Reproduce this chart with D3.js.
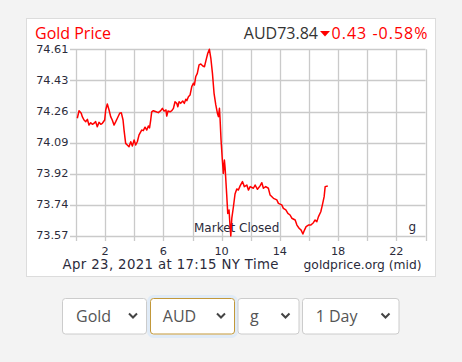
<!DOCTYPE html>
<html>
<head>
<meta charset="utf-8">
<script src="https://cdn.jsdelivr.net/npm/d3@7"></script>
<style>
  html, body { margin: 0; padding: 0; background: #f3f3f3; }
  svg { display: block; }
</style>
</head>
<body>
<svg id="chart" width="462" height="362"></svg>
<script>
// ---- data ----
const hours = [0.09,0.21,0.36,0.43,0.55,0.67,0.78,0.89,1.01,1.12,1.24,1.35,1.46,1.58,1.70,1.81,1.97,2.04,2.15,2.27,2.38,2.49,2.61,2.73,2.84,3.00,3.11,3.23,3.30,3.41,3.52,3.64,3.76,3.87,3.99,4.10,4.21,4.33,4.51,4.62,4.74,4.86,4.97,5.05,5.13,5.20,5.31,5.50,5.65,5.82,5.93,6.05,6.18,6.23,6.32,6.46,6.58,6.69,6.80,6.92,6.99,7.08,7.19,7.33,7.44,7.54,7.61,7.72,7.83,7.95,8.06,8.13,8.22,8.33,8.45,8.57,8.71,8.82,8.93,9.05,9.16,9.26,9.37,9.48,9.60,9.71,9.78,9.85,9.89,9.96,10.05,10.12,10.19,10.24,10.35,10.42,10.51,10.58,10.63,10.70,10.81,10.92,11.04,11.15,11.27,11.43,11.56,11.73,11.84,11.96,12.18,12.30,12.46,12.64,12.76,12.87,13.03,13.21,13.33,13.56,13.79,13.90,14.13,14.24,14.41,14.55,14.70,14.82,15.05,15.17,15.32,15.46,15.58,15.69,15.80,15.96,16.13,16.30,16.42,16.54,16.65,16.81,16.92,17.04,17.11,17.29];
const prices = [74.226,74.268,74.254,74.235,74.216,74.207,74.220,74.188,74.201,74.192,74.198,74.207,74.179,74.203,74.192,74.198,74.216,74.272,74.305,74.272,74.235,74.216,74.188,74.207,74.226,74.254,74.257,74.216,74.160,74.086,74.077,74.067,74.095,74.071,74.105,74.077,74.095,74.133,74.160,74.157,74.176,74.160,74.183,74.172,74.216,74.262,74.268,74.262,74.257,74.268,74.281,74.266,74.272,74.238,74.266,74.262,74.268,74.281,74.318,74.309,74.290,74.318,74.309,74.322,74.309,74.332,74.324,74.346,74.355,74.402,74.421,74.411,74.457,74.476,74.523,74.528,74.517,74.513,74.550,74.588,74.610,74.560,74.476,74.365,74.300,74.254,74.235,74.281,74.227,74.105,73.993,73.919,73.993,73.949,73.798,73.696,73.715,73.622,73.570,73.670,73.733,73.804,73.832,73.826,73.849,73.873,73.845,73.854,73.826,73.845,73.836,73.854,73.830,73.849,73.867,73.836,73.845,73.836,73.798,73.780,73.771,73.752,73.743,73.724,73.715,73.696,73.687,73.669,73.659,73.631,73.613,73.603,73.581,73.603,73.622,73.631,73.631,73.644,73.659,73.650,73.678,73.705,73.743,73.789,73.845,73.849];
const yDomain = [73.57, 74.61];
const yTickLabels = ["73.57","73.74","73.92","74.09","74.26","74.43","74.61"];
const xDomain = [0, 24];
const xGridHours = [0,2,4,6,8,10,12,14,16,18,20,22,24];
const xTickLabels = [2,6,10,14,18,22];
const titleText = "Gold Price";
const priceText = "AUD73.84";
const changeText = "0.43 -0.58%";
const dateText = "Apr 23, 2021 at 17:15 NY Time";
const sourceText = "goldprice.org (mid)";
const closedText = "Market Closed";
const unitText = "g";
const selectors = ["Gold", "AUD", "g", "1 Day"];

// ---- drawing ----
const svg = d3.select("#chart");
const FONT = "'DejaVu Sans', Verdana, sans-serif";
const TFONT = "'Open Sans', sans-serif";

// card
svg.append("rect").attr("x", 26.5).attr("y", 18.5).attr("width", 409).attr("height", 258)
  .attr("fill", "#fff").attr("stroke", "#dcdcdc").attr("stroke-width", 1);

const x = d3.scaleLinear().domain(xDomain).range([76, 425.5]);
const y = d3.scaleLinear().domain(yDomain).range([236, 49.3]);

const yTickVals = d3.range(yTickLabels.length).map(i => yDomain[0] + i * (yDomain[1] - yDomain[0]) / (yTickLabels.length - 1));

const grid = svg.append("g");
// horizontal gridlines + left ticks
grid.selectAll("line.h").data(yTickVals).join("line")
  .attr("x1", 70).attr("x2", x(24))
  .attr("y1", d => Math.round(y(d)) + 0.5).attr("y2", d => Math.round(y(d)) + 0.5)
  .attr("stroke", "#cacaca").attr("stroke-width", 1.3);
// vertical gridlines + bottom ticks
grid.selectAll("line.v").data(xGridHours).join("line")
  .attr("x1", d => Math.round(x(d)) + 0.5).attr("x2", d => Math.round(x(d)) + 0.5)
  .attr("y1", y(yDomain[1])).attr("y2", 241)
  .attr("stroke", "#cacaca").attr("stroke-width", 1.3);

// y labels
svg.append("g").selectAll("text").data(yTickVals).join("text")
  .attr("x", 68.5).attr("y", d => y(d) + 3.4)
  .attr("text-anchor", "end")
  .attr("font-family", FONT).attr("font-size", 11.3).attr("fill", "#2b2b3b")
  .text((d, i) => yTickLabels[i]);

// x labels
svg.append("g").selectAll("text").data(xTickLabels).join("text")
  .attr("x", d => x(d)).attr("y", 254.5)
  .attr("text-anchor", "middle")
  .attr("font-family", FONT).attr("font-size", 11.3).attr("fill", "#2b2b3b")
  .text(d => d);

// market closed + unit
svg.append("text").attr("x", 194).attr("y", 231.5)
  .attr("font-family", FONT).attr("font-size", 12).attr("fill", "#2b2b3b").text(closedText);
svg.append("text").attr("x", 408.5).attr("y", 230.5)
  .attr("font-family", FONT).attr("font-size", 12).attr("fill", "#2b2b3b").text(unitText);

// price line
const pts = hours.map((h, i) => [h, prices[i]]);
svg.append("path").datum(pts)
  .attr("fill", "none").attr("stroke", "#ff0000").attr("stroke-width", 1.5)
  .attr("stroke-linejoin", "round")
  .attr("d", d3.line().x(d => x(d[0])).y(d => y(d[1])));

// header
svg.append("text").attr("x", 35).attr("y", 39)
  .attr("font-family", TFONT).attr("font-size", 16).attr("fill", "#ff0000").text(titleText);
svg.append("text").attr("x", 318).attr("y", 39).attr("text-anchor", "end")
  .attr("font-family", TFONT).attr("font-size", 16).attr("fill", "#333").text(priceText);
svg.append("path").attr("d", "M320,31 L330,31 L325,36.5 Z").attr("fill", "#ff0000");
svg.append("text").attr("x", 427.5).attr("y", 39).attr("text-anchor", "end")
  .attr("font-family", TFONT).attr("font-size", 16).attr("fill", "#ff0000")
  .attr("textLength", 96).attr("lengthAdjust", "spacing")
  .text(changeText);

// footer
svg.append("text").attr("x", 62.5).attr("y", 268.5)
  .attr("font-family", FONT).attr("font-size", 13.3).attr("fill", "#2b2b3b")
  .attr("textLength", 216).attr("lengthAdjust", "spacing").text(dateText);
svg.append("text").attr("x", 421.5).attr("y", 268.5).attr("text-anchor", "end")
  .attr("font-family", FONT).attr("font-size", 12.3).attr("fill", "#2b2b3b").text(sourceText);

// selectors
const boxX = [62.5, 150.5, 238, 302.5];
const boxW = [84, 84, 61, 96.5];
const textOff = [13.5, 12.3, 12, 13.2];
const sel = svg.append("g");
selectors.forEach((s, i) => {
  const g = sel.append("g");
  const active = i === 1;
  if (active) {
    g.append("rect").attr("x", boxX[i] - 2).attr("y", 296.5).attr("width", boxW[i] + 4).attr("height", 40)
      .attr("rx", 5).attr("fill", "none").attr("stroke", "#dbe9f7").attr("stroke-width", 3).attr("opacity", 0.8);
  }
  g.append("rect").attr("x", boxX[i]).attr("y", 298.5).attr("width", boxW[i]).attr("height", 35.5)
    .attr("rx", 3).attr("fill", "#fff").attr("stroke", active ? "#c2983a" : "#cccccc").attr("stroke-width", 1);
  g.append("text").attr("x", boxX[i] + textOff[i]).attr("y", 321.5)
    .attr("font-family", TFONT).attr("font-size", 16).attr("fill", "#555").text(s);
  const cx = boxX[i] + boxW[i] - 13.5;
  g.append("path").attr("d", `M${cx - 4},313.5 L${cx},317.5 L${cx + 4},313.5`)
    .attr("fill", "none").attr("stroke", "#444").attr("stroke-width", 2);
});
</script>
</body>
</html>
